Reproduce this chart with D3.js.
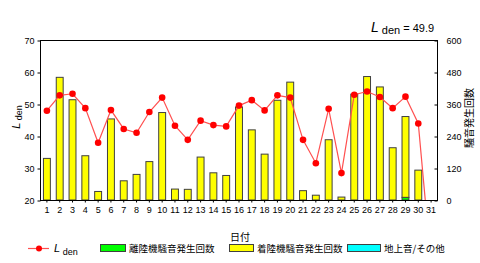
<!DOCTYPE html>
<html>
<head>
<meta charset="utf-8">
<script src="https://cdn.jsdelivr.net/npm/d3@7"></script>
<style>
  body { margin: 0; background: #fff; }
  text { font-family: "Liberation Sans", Arial, sans-serif; fill: #000; }
  .cjk { font-family: "Noto Sans CJK JP", sans-serif; }
</style>
</head>
<body>
<svg id="chart" width="480" height="263"></svg>
<script>
// daily data
var days = d3.range(1, 32);
var lden = [47.9, 52.7, 53.2, 48.7, 37.9, 48.1, 42.2, 41.0, 47.5, 52.0,
            43.2, 38.8, 44.8, 43.4, 43.0, 49.5, 51.2, 48.0, 52.7, 52.0,
            38.8, 31.5, 48.5, 28.4, 52.9, 53.9, 52.2, 48.7, 52.3, 43.9, 0];
var departures = [0, 0, 0, 0, 0, 0, 0, 0, 0, 0, 0, 0, 0, 0, 0, 0, 0, 0, 0, 0,
                  0, 0, 0, 0, 0, 0, 0, 0, 10, 0, 0];
var arrivals = [156, 460, 376, 166, 32, 304, 72, 96, 144, 328,
                41, 40, 161, 102, 92, 349, 263, 172, 374, 442,
                35, 18, 226, 11, 397, 463, 424, 196, 303, 112, 0];
var ground = [0, 0, 0, 0, 0, 0, 0, 0, 0, 0, 0, 0, 0, 0, 0, 0, 0, 0, 0, 0,
              0, 0, 0, 0, 0, 0, 0, 0, 0, 0, 0];
var leftTicks = [20, 30, 40, 50, 60, 70];
var rightTicks = [0, 120, 240, 360, 480, 600];
var ldenTotal = "49.9";

var svg = d3.select("#chart");
var pl = 40, pr = 437, pt = 40, pb = 200;

var x = d3.scaleBand().domain(days).range([pl, pr]).paddingInner(0.46).paddingOuter(0.23);
var yL = d3.scaleLinear().domain([20, 70]).range([pb, pt]);
var yR = d3.scaleLinear().domain([0, 600]).range([pb, pt]);

// clip for the line
svg.append("clipPath").attr("id", "plotclip")
    .append("rect").attr("x", pl).attr("y", pt)
    .attr("width", pr - pl).attr("height", pb - pt);

// stacked bars: departures, arrivals, ground
var rows = days.map(function (d, i) {
    return {day: d, dep: departures[i], arr: arrivals[i], gnd: ground[i]};
});
var stack = d3.stack().keys(["dep", "arr", "gnd"])(rows);
var colors = {dep: "#00ff00", arr: "#ffff00", gnd: "#00ffff"};

stack.forEach(function (layer) {
    svg.append("g").selectAll("rect")
        .data(layer.filter(function (d) { return d[1] - d[0] > 0; }))
        .enter().append("rect")
        .attr("x", function (d) { return x(d.data.day) + 0.5; })
        .attr("y", function (d) { return yR(d[1]); })
        .attr("width", x.bandwidth())
        .attr("height", function (d) { return yR(d[0]) - yR(d[1]); })
        .attr("fill", colors[layer.key])
        .attr("stroke", "#404040")
        .attr("stroke-width", 1);
});

// frame
svg.append("rect").attr("x", pl + 0.5).attr("y", pt + 0.5)
    .attr("width", pr - pl).attr("height", pb - pt)
    .attr("fill", "none").attr("stroke", "#000").attr("stroke-width", 1);

// axes
var axL = svg.append("g").attr("transform", "translate(" + (pl + 0.5) + ",0.5)")
    .call(d3.axisLeft(yL).tickValues(leftTicks).tickSize(3).tickPadding(3));
var axR = svg.append("g").attr("transform", "translate(" + (pr + 0.5) + ",0.5)")
    .call(d3.axisRight(yR).tickValues(rightTicks).tickSizeInner(-3).tickSizeOuter(0).tickPadding(9));
var axB = svg.append("g").attr("transform", "translate(0.5," + (pb + 0.5) + ")")
    .call(d3.axisBottom(x).tickSize(2).tickPadding(4));
[axL, axR, axB].forEach(function (a) {
    a.select(".domain").remove();
    a.selectAll("text").style("font-size", "9px")
        .style("font-family", "'Liberation Sans', Arial, sans-serif");
});

// Lden line
var line = d3.line()
    .x(function (d, i) { return x(days[i]) + x.bandwidth() / 2 + 0.5; })
    .y(function (d) { return yL(d); });
var lg = svg.append("g").attr("clip-path", "url(#plotclip)");
lg.append("path").datum(lden)
    .attr("d", line).attr("fill", "none")
    .attr("stroke", "#ff5050").attr("stroke-width", 1.2);
lg.selectAll("circle").data(lden).enter().append("circle")
    .attr("cx", function (d, i) { return x(days[i]) + x.bandwidth() / 2 + 0.5; })
    .attr("cy", function (d) { return yL(d); })
    .attr("r", 3.3).attr("fill", "#ff0000");

// titles
var lt = svg.append("text").attr("transform", "translate(20,117) rotate(-90)")
    .attr("text-anchor", "middle");
lt.append("tspan").style("font-style", "italic").style("font-size", "11px").text("L");
lt.append("tspan").attr("dy", 2).style("font-size", "9px").text(" den");

svg.append("text").attr("class", "cjk")
    .attr("transform", "translate(473,118) rotate(-90)")
    .attr("text-anchor", "middle").style("font-size", "10px").text("騒音発生回数");

svg.append("text").attr("class", "cjk").attr("x", 240).attr("y", 241)
    .attr("text-anchor", "middle").style("font-size", "10px").text("日付");

var tt = svg.append("text").attr("x", 371).attr("y", 32);
tt.append("tspan").style("font-style", "italic").style("font-size", "14px").text("L");
tt.append("tspan").attr("dy", 2).style("font-size", "11px").text(" den");
tt.append("tspan").attr("dy", -2).style("font-size", "11px").text("  = " + ldenTotal);

// legend
var leg = svg.append("g");
leg.append("line").attr("x1", 28).attr("x2", 49).attr("y1", 248.5).attr("y2", 248.5)
    .attr("stroke", "#ff5050").attr("stroke-width", 1.2);
leg.append("circle").attr("cx", 39).attr("cy", 248.5).attr("r", 3).attr("fill", "#ff0000");
var lgT = leg.append("text").attr("x", 54).attr("y", 252);
lgT.append("tspan").style("font-style", "italic").style("font-size", "11px").text("L");
lgT.append("tspan").attr("dy", 3).style("font-size", "9px").text(" den");

var items = [
    {label: "離陸機騒音発生回数", color: colors.dep, x: 100, w: 25},
    {label: "着陸機騒音発生回数", color: colors.arr, x: 229, w: 24},
    {label: "地上音/その他", color: colors.gnd, x: 347, w: 33}
];
items.forEach(function (it) {
    leg.append("rect").attr("x", it.x + 0.5).attr("y", 244.5)
        .attr("width", it.w).attr("height", 7)
        .attr("fill", it.color).attr("stroke", "#404040");
    leg.append("text").attr("class", "cjk").attr("x", it.x + it.w + 4).attr("y", 252)
        .style("font-size", "9.5px").text(it.label);
});
</script>
</body>
</html>
